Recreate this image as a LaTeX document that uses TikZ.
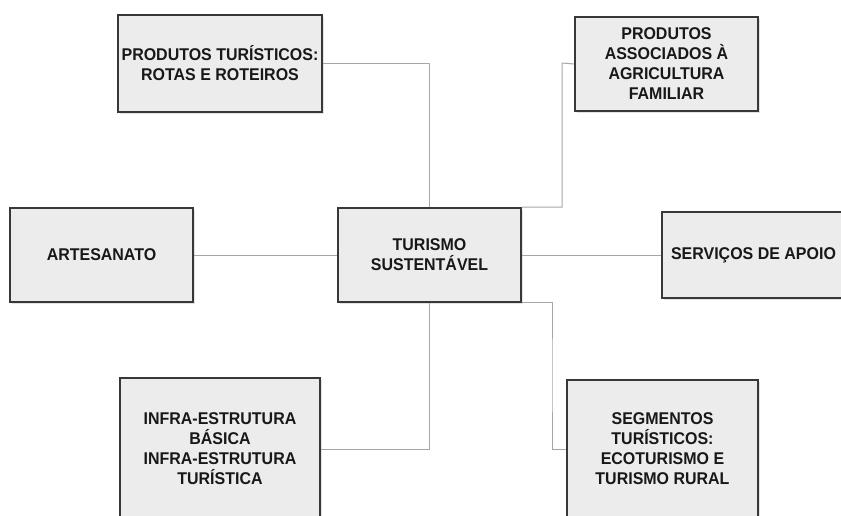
\documentclass[tikz,border=0pt]{standalone}
\usepackage{fontspec}
\setmainfont{Liberation Sans}[FakeStretch=0.94]
\usetikzlibrary{shadows}
\definecolor{boxline}{HTML}{383838}
\definecolor{boxfill}{HTML}{ECECEC}
\definecolor{linkgray}{HTML}{A6A6A6}
\definecolor{textdark}{HTML}{181818}
\tikzset{
  topic/.style={draw=boxline, line width=1.8pt, fill=boxfill,
    drop shadow={opacity=0.22, shadow xshift=1.5pt, shadow yshift=-1.5pt},
    align=center, inner sep=0pt, text=textdark,
    font=\fontsize{17}{20}\selectfont\bfseries},
  link/.style={draw=linkgray, line width=1pt}
}
\begin{document}
\begin{tikzpicture}[x=1pt, y=-1pt]
\useasboundingbox (0,0) rectangle (841,515);
\clip (0,0) rectangle (841,515);
\fill[white] (0,0) rectangle (841,515);

% bend points of the two offset connectors
\coordinate (c1) at (562,63);
\coordinate (c2) at (552,375);

% boxes
\node[topic, minimum width=204pt, minimum height=97pt] (rt) at (220,63.5)
  {PRODUTOS TURÍSTICOS:\\ROTAS E ROTEIROS};
\node[topic, minimum width=183pt, minimum height=94pt] (agr) at (666.5,64)
  {PRODUTOS\\ASSOCIADOS À\\AGRICULTURA\\FAMILIAR};
\node[topic, minimum width=183pt, minimum height=94pt] (art) at (101.5,255)
  {ARTESANATO};
\node[topic, minimum width=183pt, minimum height=94pt] (ts) at (429.5,255)
  {TURISMO\\SUSTENTÁVEL};
\node[topic, minimum width=183pt, minimum height=86pt] (srv) at (753.5,255)
  {SERVIÇOS DE APOIO};
\node[topic, minimum width=200pt, minimum height=142pt] (inf) at (220,449)
  {INFRA-ESTRUTURA\\BÁSICA\\INFRA-ESTRUTURA\\TURÍSTICA};
\node[topic, minimum width=191pt, minimum height=138pt] (seg) at (662.5,449)
  {SEGMENTOS\\TURÍSTICOS:\\ECOTURISMO E\\TURISMO RURAL};

% connectors
\draw[link] (ts.north) |- (rt.east);
\draw[link] (ts.north east) -| (c1) -- (agr.west);
\draw[link] (art.east) -- (ts.west);
\draw[link] (ts.east) -- (srv.west);
\draw[link] (ts.south) |- (inf.east);
\draw[link] (ts.south east) -| (c2) |- (seg.west);
\end{tikzpicture}
\end{document}
